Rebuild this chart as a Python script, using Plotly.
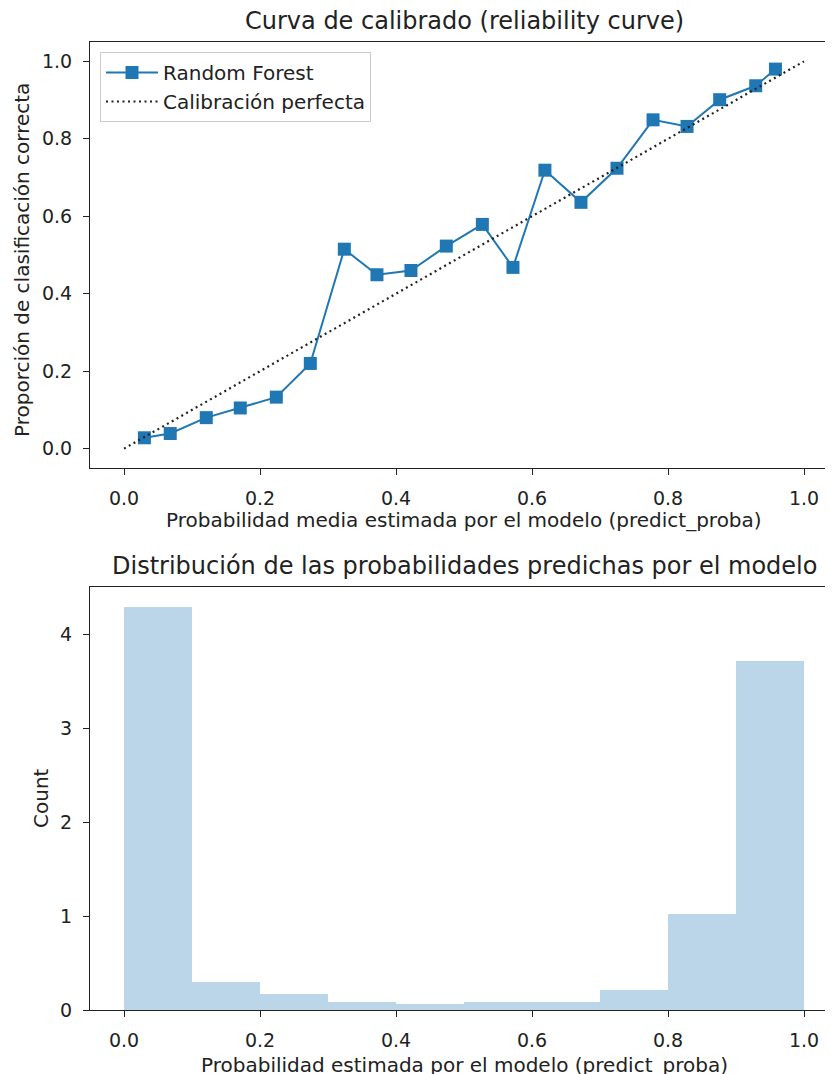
import plotly.graph_objects as go

# --- data ---
prob_pred = [0.030, 0.068, 0.121, 0.171, 0.224, 0.274, 0.324, 0.372, 0.422, 0.474,
             0.527, 0.572, 0.619, 0.672, 0.725, 0.778, 0.828, 0.876, 0.929, 0.958]
prob_true = [0.028, 0.039, 0.080, 0.105, 0.133, 0.220, 0.515, 0.449, 0.460, 0.523,
             0.579, 0.468, 0.719, 0.636, 0.724, 0.849, 0.832, 0.901, 0.937, 0.980]
perfect_x = [0.0, 1.0]
perfect_y = [0.0, 1.0]
bin_edges = [0.0, 0.1, 0.2, 0.3, 0.4, 0.5, 0.6, 0.7, 0.8, 0.9, 1.0]
density = [4.29, 0.30, 0.173, 0.088, 0.064, 0.081, 0.081, 0.215, 1.024, 3.71]
xticks = [0.0, 0.2, 0.4, 0.6, 0.8, 1.0]
yticks_top = [0.0, 0.2, 0.4, 0.6, 0.8, 1.0]
yticks_bottom = [0, 1, 2, 3, 4]

FONT = "DejaVu Sans"
TXT = "#222222"
BLUE = "#1f77b4"
OFF = 8                      # page body margin
W, H = 833 - OFF, 1074 - OFF
L, R, T, B = 90 - OFF, 0, 42 - OFF, 1074 - 1010
PW, PH = W - L - R, H - T - B

def px(x):   # page pixel x -> paper
    return (x - 90) / PW

def py(y):   # page pixel y -> paper
    return (1010 - y) / PH

centers = [(bin_edges[i] + bin_edges[i + 1]) / 2 for i in range(len(density))]
widths = [bin_edges[i + 1] - bin_edges[i] for i in range(len(density))]

fig = go.Figure()
fig.add_trace(go.Scatter(x=prob_pred, y=prob_true, mode="lines+markers", name="Random Forest",
                         legendgroup="a",
                         line=dict(color=BLUE, width=2),
                         marker=dict(symbol="square", size=13, color=BLUE),
                         xaxis="x", yaxis="y"))
fig.add_trace(go.Scatter(x=perfect_x, y=perfect_y, mode="lines", name="Calibración perfecta",
                         legendgroup="b",
                         line=dict(color=TXT, width=2.2, dash="2px,3.5px"),
                         xaxis="x", yaxis="y"))
fig.add_trace(go.Bar(x=centers, y=density, width=widths, showlegend=False,
                     marker=dict(color="rgba(31,119,180,0.3)", line=dict(width=0)),
                     xaxis="x2", yaxis="y2"))

xmax = -0.05 + 1.1 * PW / (838 - 90)
axis_common = dict(showline=True, linecolor=TXT, linewidth=1.2, ticks="outside",
                   ticklen=6, tickwidth=1.2, tickcolor=TXT, showgrid=False, zeroline=False,
                   automargin=False, ticklabelstandoff=7,
                   tickfont=dict(family=FONT, size=19, color=TXT))

fig.update_layout(
    width=W, height=H, margin=dict(l=L, r=R, t=T, b=B, autoexpand=False),
    paper_bgcolor="white", plot_bgcolor="white",
    bargap=0,
    font=dict(family=FONT, color=TXT),
    xaxis=dict(domain=[0, 1], range=[-0.05, xmax], tickvals=xticks, tickformat=".1f",
               anchor="y", mirror=True, **axis_common),
    yaxis=dict(domain=[py(468), 1], range=[-0.05, 1.05], tickvals=yticks_top, tickformat=".1f",
               anchor="x", **axis_common),
    xaxis2=dict(domain=[0, 1], range=[-0.05, xmax], tickvals=xticks, tickformat=".1f",
                anchor="y2", mirror=True, **axis_common),
    yaxis2=dict(domain=[0, py(587)], range=[0, 4.5], tickvals=yticks_bottom,
                anchor="x2", **axis_common),
    legend=dict(x=px(100), y=py(52), xanchor="left", yanchor="top",
                bgcolor="rgba(255,255,255,0.8)", bordercolor="#cccccc", borderwidth=1,
                font=dict(family=FONT, size=20, color=TXT), itemwidth=52,
                traceorder="grouped", tracegroupgap=0),
    showlegend=True,
)

annots = [
    dict(text="Curva de calibrado (reliability curve)", x=0.5, xref="x", y=py(21), yref="paper",
         font=dict(size=24)),
    dict(text="Distribución de las probabilidades predichas por el modelo", x=0.5, xref="x2",
         y=py(566), yref="paper", font=dict(size=24)),
    dict(text="Probabilidad media estimada por el modelo (predict_proba)", x=0.5, xref="x",
         y=py(520), yref="paper", font=dict(size=20)),
    dict(text="Probabilidad estimada por el modelo (predict_proba)", x=0.5, xref="x2",
         y=py(1065), yref="paper", font=dict(size=20)),
    dict(text="Proporción de clasificación correcta", x=px(22), xref="paper",
         y=py(260), yref="paper", textangle=-90, font=dict(size=20)),
    dict(text="Count", x=px(41), xref="paper", y=py(798), yref="paper", textangle=-90,
         font=dict(size=20)),
]
for a in annots:
    a.update(showarrow=False, xanchor="center", yanchor="middle")
    a["font"].update(family=FONT, color=TXT)
    fig.add_annotation(**a)

fig.write_html("out.html")
